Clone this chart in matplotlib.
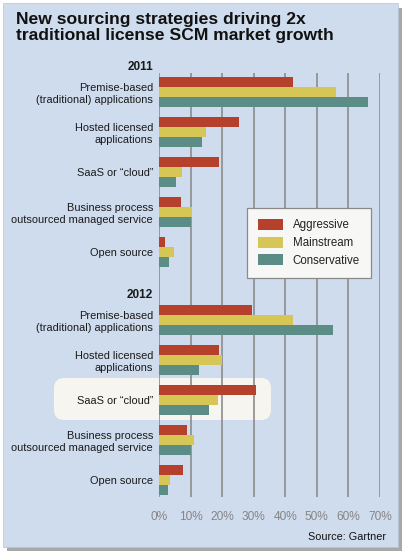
import matplotlib
matplotlib.use("Agg")
import matplotlib.pyplot as plt
from matplotlib.patches import Rectangle, FancyBboxPatch
import numpy as np

plt.rcParams['font.family'] = ['Liberation Sans', 'DejaVu Sans']

categories = ["Premise-based\n(traditional) applications",
              "Hosted licensed\napplications",
              "SaaS or \u201ccloud\u201d",
              "Business process\noutsourced managed service",
              "Open source"]
years = ["2011", "2012"]
series = ["Aggressive", "Mainstream", "Conservative"]
aggressive_2011 = [42.3, 25.3, 19.0, 7.0, 1.9]
mainstream_2011 = [56.0, 14.8, 7.3, 10.3, 4.8]
conservative_2011 = [66.2, 13.6, 5.4, 10.1, 3.2]
aggressive_2012 = [29.5, 19.0, 30.6, 8.9, 7.6]
mainstream_2012 = [42.4, 19.9, 18.7, 11.1, 3.5]
conservative_2012 = [55.0, 12.7, 15.8, 10.1, 2.9]
xticks = [0, 10, 20, 30, 40, 50, 60, 70]
xtick_labels = ["0%", "10%", "20%", "30%", "40%", "50%", "60%", "70%"]

colors = ["#b5402b", "#d5c655", "#5b8c85"]
bg = "#cfdcee"

W, H = 406, 555
fig = plt.figure(figsize=(W / 100, H / 100), dpi=100)
fig.patch.set_facecolor("white")

def fx(px):
    return px / W

def fy(py):
    return 1 - py / H

# shadow and panel
fig.patches.append(Rectangle((fx(7), fy(551)), fx(395), fy(8) - fy(551),
                             transform=fig.transFigure, facecolor="#a8a8a8", edgecolor="none", zorder=0))
fig.patches.append(Rectangle((fx(3), fy(547)), fx(395), fy(3) - fy(547),
                             transform=fig.transFigure, facecolor=bg, edgecolor="#b8c4d4", lw=0.5, zorder=0.5))
# highlight behind SaaS 2012
fig.patches.append(FancyBboxPatch((fx(54), fy(420)), fx(217), fy(378) - fy(420),
                                  boxstyle="round,pad=0,rounding_size=0.025",
                                  transform=fig.transFigure, facecolor="#f6f5ef",
                                  edgecolor="none", zorder=0.8,
                                  mutation_aspect=W / H))

ax = fig.add_axes([fx(159), fy(497), fx(380) - fx(159), fy(73) - fy(497)])
ax.set_facecolor("none")
ax.set_zorder(2)

offsets = [0, 5.7]
bh = 0.243
data = {"2011": [aggressive_2011, mainstream_2011, conservative_2011],
        "2012": [aggressive_2012, mainstream_2012, conservative_2012]}
yt, yl = [], []
for yi, year in enumerate(years):
    base = offsets[yi] + np.arange(len(categories))
    for si in range(3):
        ax.barh(base + (si - 1) * bh, data[year][si], height=bh, color=colors[si],
                edgecolor="none", zorder=3, label=series[si] if yi == 0 else None)
    yt.extend(base)
    yl.extend(categories)
    ax.text(-0.027, offsets[yi] - 0.62, year, transform=ax.get_yaxis_transform(),
            ha="right", va="center", fontsize=8.5, fontweight="bold", color="#1a1a1a")

ax.set_ylim(10.125, -0.475)
ax.set_xlim(0, 70)
ax.set_yticks(yt)
ax.set_yticklabels(yl, fontsize=7.9, color="#1a1a1a", linespacing=1.2)
ax.set_xticks(xticks)
ax.set_xticklabels(xtick_labels, fontsize=8.6, color="#858585")
ax.tick_params(length=0, axis="both")
ax.tick_params(axis="y", pad=4.3)
ax.tick_params(axis="x", pad=10)
for s in ax.spines.values():
    s.set_visible(False)
ax.grid(axis="x", color="#8c8c8c", lw=1.2, zorder=1)
ax.set_axisbelow(True)

leg = ax.legend(loc="upper left", bbox_to_anchor=((247 - 159) / 221, 1 - (208 - 73) / 424),
                frameon=True, fontsize=8.3, handlelength=2.2, handleheight=1.1,
                borderpad=0.95, labelspacing=0.45, handletextpad=0.8, borderaxespad=0,
                fancybox=False)
leg.get_frame().set_facecolor("#f7f7f5")
leg.get_frame().set_edgecolor("#8a8a8a")
leg.get_frame().set_linewidth(0.9)
leg.get_frame().set_alpha(1)
leg.set_zorder(5)
for t in leg.get_texts():
    t.set_color("#222222")

fig.text(fx(16), fy(12), "New sourcing strategies driving 2x\ntraditional license SCM market growth",
         ha="left", va="top", fontsize=12.6, fontweight="bold", color="#111111", linespacing=1.08)
fig.text(fx(386), fy(537), "Source: Gartner", ha="right", va="center", fontsize=7.8, color="#111111")

fig.savefig("out.png", dpi=100, facecolor="white")
